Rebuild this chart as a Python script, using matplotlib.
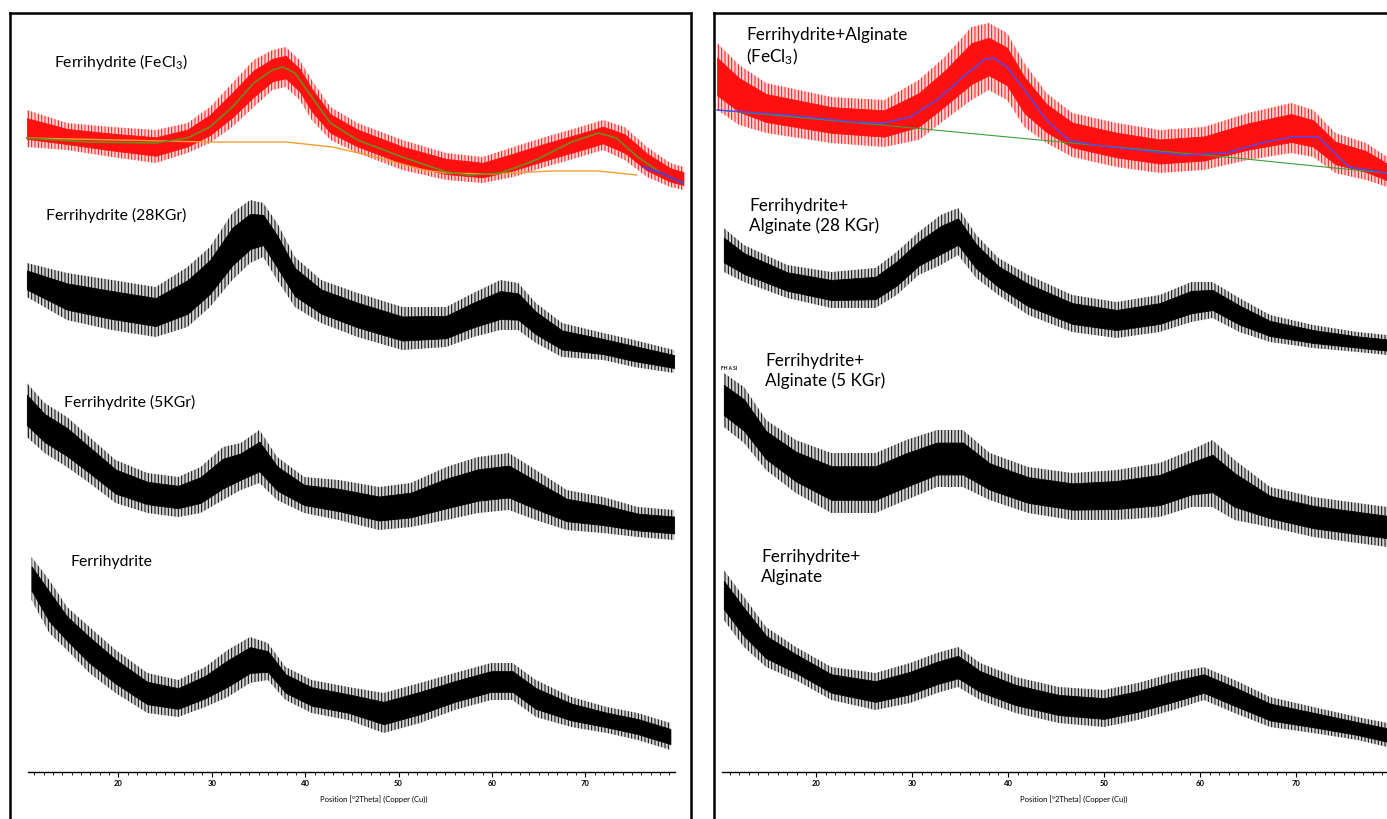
import numpy as np
import matplotlib
matplotlib.use("Agg")
import matplotlib.pyplot as plt
from matplotlib.ticker import MultipleLocator

plt.rcParams['font.family'] = ['Lato', 'DejaVu Sans']
plt.rcParams['mathtext.default'] = 'regular'
plt.rcParams['hatch.linewidth'] = 0.7

W, H = 1387, 819

# ---- data: 2theta, upper / lower edge of the noisy trace (a.u.) ----
# left panel
l1_tt = [10.2, 14.5, 19.3, 24.0, 27.4, 29.8, 32.2, 34.5, 36.5, 37.9, 39.4, 40.7, 42.7,
         45.6, 50.4, 55.1, 59.0, 62.3, 65.7, 69.4, 71.9, 74.2, 76.6, 79.1, 80.5]
l1_hi = [90, 77, 73, 70, 77, 93, 117, 140, 150, 153, 140, 120, 93, 77, 60, 47, 43, 53,
         63, 73, 80, 73, 53, 37, 33]
l1_lo = [53, 50, 43, 37, 47, 57, 73, 93, 110, 113, 100, 80, 60, 47, 30, 20, 17, 23, 33,
         43, 50, 40, 23, 13, 10]
l1_fit_tt = [10.2, 16.9, 24.0, 27.4, 29.8, 32.2, 34.5, 36.5, 37.6, 38.9, 40.7, 42.7, 45.6,
             50.4, 55.1, 57.5, 60.9, 64.7, 68.5, 71.4, 73.3, 75.6, 78.1, 80.4]
l1_fit = [62, 58, 57, 62, 73, 93, 117, 130, 133, 127, 103, 77, 60, 43, 28, 25, 27, 40,
          58, 67, 62, 43, 27, 17]
l1_bg_tt = [10.2, 29.8, 38.0, 42.9, 47.6, 52.7, 55.1, 60.0, 66.4, 71.4, 75.5]
l1_bg = [62, 58, 58, 53, 43, 30, 27, 26, 29, 29, 25]
l1_end_tt = [76.2, 78.1, 80.4]
l1_end = [33, 27, 17]

l2_tt = [10.2, 14.5, 19.3, 24.0, 27.4, 29.8, 32.2, 34.1, 35.5, 37.0, 38.9, 41.7, 45.6,
         50.4, 55.1, 58.0, 60.9, 62.8, 64.7, 67.5, 71.9, 75.2, 79.5]
l2_hi = [117, 107, 100, 93, 113, 133, 167, 180, 177, 157, 123, 100, 87, 73, 73, 87, 100,
         97, 77, 57, 47, 40, 30]
l2_lo = [83, 60, 50, 43, 53, 73, 100, 117, 123, 100, 73, 57, 43, 30, 33, 43, 50, 50, 37,
         23, 20, 13, 7]

l3_tt = [10.2, 12.1, 14.5, 16.9, 19.7, 23.1, 26.4, 28.8, 31.2, 33.1, 35.1, 37.0, 39.9,
         43.6, 47.9, 51.3, 55.1, 58.5, 61.8, 64.7, 68.0, 71.9, 75.6, 79.5]
l3_hi = [167, 147, 133, 113, 90, 77, 73, 83, 103, 107, 120, 93, 73, 70, 63, 67, 83, 93,
         97, 80, 60, 53, 43, 40]
l3_lo = [113, 97, 83, 67, 47, 37, 33, 37, 50, 60, 67, 50, 37, 30, 20, 23, 30, 37, 40, 30,
         20, 17, 13, 10]

l4_tt = [10.7, 12.6, 14.5, 16.9, 19.7, 23.1, 26.4, 29.3, 31.7, 34.1, 36.0, 37.9, 40.7,
         44.6, 48.4, 52.3, 56.0, 59.9, 62.2, 64.7, 68.5, 72.3, 75.6, 79.1]
l4_hi = [203, 180, 153, 133, 110, 87, 80, 93, 110, 123, 117, 93, 80, 73, 67, 77, 87, 97,
         97, 80, 63, 53, 47, 37]
l4_lo = [160, 127, 110, 87, 67, 47, 43, 53, 63, 77, 80, 60, 47, 40, 27, 37, 50, 60, 60,
         43, 33, 27, 20, 10]

# right panel
r1_tt = [9.7, 12.0, 14.8, 21.6, 27.1, 30.7, 33.4, 36.2, 38.0, 39.9, 41.7, 44.0, 46.7,
         51.3, 55.8, 60.4, 65.0, 69.5, 71.8, 74.1, 77.3, 79.5]
r1_hi = [157, 135, 117, 103, 100, 120, 143, 173, 177, 167, 137, 107, 87, 77, 70, 73, 87,
         97, 90, 67, 57, 43]
r1_lo = [90, 75, 67, 57, 53, 60, 80, 100, 110, 100, 73, 57, 43, 33, 27, 30, 40, 47, 43,
         27, 20, 13]
r1_fit_tt = [9.7, 17.0, 23.9, 27.1, 29.8, 32.6, 35.3, 37.6, 38.5, 39.9, 41.7, 44.0, 46.3,
             49.0, 53.5, 58.1, 62.7, 66.4, 69.5, 72.3, 73.7, 75.5, 79.5]
r1_fit = [90, 85, 78, 77, 83, 100, 123, 141, 142, 133, 110, 80, 60, 55, 50, 45, 47, 57,
          63, 63, 50, 33, 27]
r1_bg_tt = [9.7, 29.0, 46.6, 62.7, 74.0, 79.5]
r1_bg = [90, 73, 57, 43, 32, 27]

r2_tt = [10.4, 12.5, 17.0, 21.6, 26.2, 28.4, 30.7, 33.0, 34.8, 36.7, 39.0, 42.1, 46.7,
         51.3, 55.8, 59.1, 61.3, 64.1, 67.3, 71.8, 76.4, 79.5]
r2_hi = [132, 115, 95, 88, 92, 108, 128, 145, 152, 125, 102, 85, 65, 58, 65, 78, 78, 62,
         45, 35, 28, 25]
r2_lo = [88, 78, 62, 52, 52, 65, 85, 95, 105, 82, 65, 45, 28, 22, 28, 38, 42, 28, 18, 12,
         8, 5]

r3_tt = [10.4, 12.5, 14.8, 17.9, 21.6, 26.2, 29.4, 32.6, 35.3, 38.1, 42.1, 46.7, 51.3,
         55.8, 59.1, 61.3, 63.6, 67.3, 71.8, 76.4, 79.5]
r3_hi = [187, 173, 140, 120, 107, 107, 120, 130, 130, 107, 93, 87, 90, 97, 110, 120, 100,
         73, 63, 57, 53]
r3_lo = [133, 117, 90, 67, 47, 47, 60, 73, 73, 60, 47, 40, 40, 43, 53, 53, 40, 33, 23,
         17, 13]

r4_tt = [10.4, 12.5, 14.8, 17.9, 21.6, 26.2, 29.8, 32.6, 34.8, 37.1, 40.8, 45.3, 50.0,
         53.5, 57.2, 60.4, 63.6, 67.3, 71.8, 76.4, 79.5]
r4_hi = [190, 163, 133, 113, 93, 87, 97, 107, 113, 97, 83, 73, 70, 77, 87, 93, 80, 63,
         53, 43, 37]
r4_lo = [140, 113, 93, 80, 60, 50, 57, 67, 73, 60, 47, 37, 33, 40, 50, 60, 47, 33, 27,
         20, 13]

left_labels = ["Ferrihydrite (FeCl$_3$)", "Ferrihydrite (28KGr)", "Ferrihydrite (5KGr)",
               "Ferrihydrite"]
right_labels = ["Ferrihydrite+Alginate\n(FeCl$_3$)", "Ferrihydrite+\nAlginate (28 KGr)",
                "Ferrihydrite+\nAlginate (5 KGr)", "Ferrihydrite+\nAlginate"]
xlabel = "Position [°2Theta] (Copper (Cu))"


def band(ax, tt, hi, lo, off, color):
    # outer spikes drawn as vertical hatching, dense core solid
    tt, hi, lo = np.asarray(tt), np.asarray(hi, float), np.asarray(lo, float)
    ax.fill_between(tt, off + lo, off + hi, facecolor=color, alpha=0.18, lw=0)
    ax.fill_between(tt, off + lo, off + hi, facecolor='none', edgecolor=color,
                    hatch='|||||', lw=0)
    pad = 0.22 * (hi - lo)
    ax.fill_between(tt, off + lo + pad, off + hi - pad, color=color, lw=0.6)


def panel(x0, x1, xlim):
    ax = fig.add_axes([x0 / W, 0, (x1 - x0) / W, (H - 13) / H])
    ax.set_xlim(*xlim)
    ax.set_ylim(0, H - 13)
    ax.set_xticks([])
    ax.set_yticks([])
    ax.spines['bottom'].set_visible(False)
    for s in ax.spines.values():
        s.set_linewidth(1.8)
    return ax


def pos_axis(x0, x1, xlim, label_x):
    a = fig.add_axes([x0 / W, (H - 772) / H, (x1 - x0) / W, 0.0005])
    a.patch.set_visible(False)
    for s in ['top', 'left', 'right']:
        a.spines[s].set_visible(False)
    a.spines['bottom'].set_linewidth(1.0)
    a.set_xlim(*xlim)
    a.set_yticks([])
    a.set_xticks([20, 30, 40, 50, 60, 70])
    a.xaxis.set_minor_locator(MultipleLocator(1))
    a.tick_params(axis='x', which='major', length=3.5, width=0.8, labelsize=5.5, pad=2)
    a.tick_params(axis='x', which='minor', length=2, width=0.6)
    for t in a.get_xticklabels():
        t.set_fontweight('bold')
    fig.text(label_x / W, 1 - 799 / H, xlabel, fontsize=5.5, ha='center', va='center')
    return a


fig = plt.figure(figsize=(W / 100, H / 100), dpi=100)

# left panel: px = 25 + (tt - 10) * 9.34
axl = panel(10, 691, (10 - 15 / 9.34, 10 + 666 / 9.34))
band(axl, l1_tt, l1_hi, l1_lo, 619, '#ff1010')
axl.plot(l1_bg_tt, np.add(l1_bg, 619), color='#f0a030', lw=1.0)
axl.plot(l1_fit_tt, np.add(l1_fit, 619), color='#6f8a1e', lw=1.2)
axl.plot(l1_end_tt, np.add(l1_end, 619), color='#5a3cc8', lw=1.6)
band(axl, l2_tt, l2_hi, l2_lo, 439, 'black')
band(axl, l3_tt, l3_hi, l3_lo, 269, 'black')
band(axl, l4_tt, l4_hi, l4_lo, 59, 'black')
pos_axis(28, 675, (10 + 3 / 9.34, 10 + 650 / 9.34), 374)

# right panel: px = 720 + (tt - 10) * 9.6
axr = panel(714, 1387, (10 - 6 / 9.6, 10 + 667 / 9.6))
axr.spines['right'].set_visible(False)
band(axr, r1_tt, r1_hi, r1_lo, 619, '#ff1010')
axr.plot(r1_bg_tt, np.add(r1_bg, 619), color='#3aa03a', lw=0.8)
axr.plot(r1_fit_tt, np.add(r1_fit, 619), color='#4a4aff', lw=1.0)
band(axr, r2_tt, r2_hi, r2_lo, 459, 'black')
band(axr, r3_tt, r3_hi, r3_lo, 259, 'black')
band(axr, r4_tt, r4_hi, r4_lo, 59, 'black')
pos_axis(722, 1387, (10 + 2 / 9.6, 10 + 667 / 9.6), 1074)
axr.text(10.1, 451, "FH A SI", fontsize=3.5, fontweight='bold', va='center')

# sample names
for txt, (x, y) in zip(left_labels, [(54, 62), (46, 215), (64, 402), (70, 562)]):
    fig.text(x / W, 1 - y / H, txt, fontsize=11.3, ha='left', va='center')
for txt, (x, y) in zip(right_labels, [(746, 47), (749, 216), (765, 371), (761, 567)]):
    fig.text(x / W, 1 - y / H, txt, fontsize=12.3, ha='left', va='center', linespacing=1.25)

fig.savefig("out.png", dpi=100)
